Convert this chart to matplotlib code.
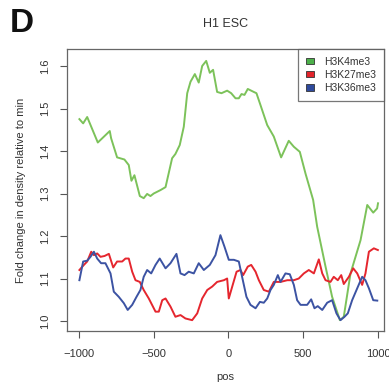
import matplotlib
matplotlib.use("Agg")
import matplotlib.pyplot as plt
from matplotlib.patches import Patch

plt.rcParams['font.family'] = ['Liberation Sans', 'DejaVu Sans']

k4_pos = [-997, -972, -945, -874, -794, -785, -745, -696, -667, -649, -629, -593, -567, -544,
          -522, -500, -455, -421, -377, -355, -326, -299, -276, -254, -225, -199, -176, -149,
          -125, -103, -76, -47, -9, 18, 47, 69, 87, 107, 129, 169, 187, 214, 259, 303, 352,
          403, 437, 477, 515, 566, 593, 649, 693, 745, 771, 816, 883, 928, 968, 994, 1000]
k4_val = [1.475, 1.465, 1.48, 1.42, 1.447, 1.43, 1.385, 1.38, 1.367, 1.33, 1.343, 1.294, 1.289,
          1.299, 1.294, 1.30, 1.308, 1.315, 1.383, 1.393, 1.414, 1.457, 1.536, 1.563, 1.581,
          1.561, 1.60, 1.612, 1.584, 1.591, 1.539, 1.536, 1.542, 1.536, 1.524, 1.524, 1.534,
          1.532, 1.546, 1.539, 1.536, 1.508, 1.461, 1.434, 1.385, 1.424, 1.41, 1.398, 1.347,
          1.285, 1.222, 1.128, 1.057, 1.002, 1.01, 1.112, 1.19, 1.273, 1.255, 1.265, 1.277]

k27_pos = [-997, -967, -945, -918, -900, -878, -856, -829, -800, -771, -745, -711, -689, -667,
           -644, -622, -593, -567, -533, -488, -466, -443, -421, -388, -355, -321, -288, -243,
           -209, -176, -142, -109, -76, -31, -9, 2, 25, 54, 80, 98, 129, 152, 181, 203, 236,
           270, 303, 348, 393, 437, 470, 504, 537, 571, 604, 627, 649, 682, 704, 731, 754, 771,
           805, 834, 861, 894, 916, 939, 972, 999]
k27_val = [1.12, 1.132, 1.14, 1.163, 1.155, 1.159, 1.151, 1.153, 1.158, 1.126, 1.14, 1.14, 1.147,
           1.147, 1.116, 1.096, 1.092, 1.073, 1.053, 1.022, 1.022, 1.049, 1.053, 1.034, 1.01,
           1.014, 1.006, 1.002, 1.018, 1.053, 1.073, 1.081, 1.092, 1.096, 1.10, 1.053, 1.081,
           1.116, 1.12, 1.108, 1.128, 1.132, 1.116, 1.096, 1.073, 1.069, 1.092, 1.092, 1.096,
           1.096, 1.10, 1.112, 1.12, 1.112, 1.145, 1.112, 1.096, 1.092, 1.104, 1.096, 1.108,
           1.087, 1.104, 1.124, 1.112, 1.085, 1.112, 1.163, 1.171, 1.167]

k36_pos = [-997, -972, -945, -923, -900, -878, -852, -823, -789, -767, -734, -700, -674, -644,
           -615, -589, -567, -544, -517, -488, -460, -421, -388, -348, -321, -294, -266, -232,
           -199, -165, -125, -87, -54, -27, 2, 36, 69, 91, 120, 147, 181, 210, 236, 259, 281,
           303, 330, 348, 381, 410, 437, 459, 482, 526, 553, 575, 597, 627, 660, 693, 722, 749,
           776, 798, 827, 861, 894, 916, 939, 968, 995]
k36_val = [1.096, 1.14, 1.142, 1.151, 1.163, 1.147, 1.136, 1.136, 1.112, 1.069, 1.057, 1.042,
           1.026, 1.038, 1.057, 1.073, 1.104, 1.12, 1.112, 1.132, 1.147, 1.124, 1.136, 1.158,
           1.112, 1.108, 1.116, 1.112, 1.136, 1.12, 1.132, 1.155, 1.202, 1.175, 1.144, 1.144,
           1.14, 1.104, 1.057, 1.038, 1.03, 1.045, 1.043, 1.053, 1.073, 1.085, 1.108, 1.092,
           1.112, 1.11, 1.085, 1.049, 1.038, 1.038, 1.051, 1.03, 1.035, 1.026, 1.043, 1.049,
           1.018, 1.002, 1.01, 1.018, 1.049, 1.077, 1.104, 1.096, 1.077, 1.049, 1.048]

series_names = ["H3K4me3", "H3K27me3", "H3K36me3"]
line_colors = ["#7cc25a", "#e5262e", "#3c53a3"]
swatch_colors = ["#4cb04a", "#e3242b", "#2f4a9c"]
x_ticks = [-1000, -500, 0, 500, 1000]
y_ticks = [1.0, 1.1, 1.2, 1.3, 1.4, 1.5, 1.6]

fig = plt.figure(figsize=(3.89, 3.84), dpi=100)
ax = fig.add_axes([67/389, 53/384, (384-67)/389, (331-49)/384])

for xs, ys, c in zip([k4_pos, k27_pos, k36_pos], [k4_val, k27_val, k36_val], line_colors):
    ax.plot(xs, ys, color=c, lw=1.4, solid_joinstyle='round')

ax.set_xlim(-1080, 1040)
ax.set_ylim(0.9765, 1.64)
ax.set_xticks(x_ticks)
ax.set_xticklabels([str(t) if t >= 0 else "\u2212" + str(-t) for t in x_ticks])
ax.set_yticks(y_ticks)
ax.set_yticklabels([f"{t:.1f}" for t in y_ticks], rotation=90, va='center')
ax.tick_params(axis='both', direction='out', length=5, width=0.8, colors='#555555',
               labelcolor='#333333', labelsize=8)
ax.tick_params(axis='x', pad=8)
ax.tick_params(axis='y', pad=7)
for s in ax.spines.values():
    s.set_color('#666666')
    s.set_linewidth(0.9)

ax.set_xlabel("pos", fontsize=8, color='#333333', labelpad=9)
ax.set_ylabel("Fold change in density relative to min", fontsize=8, color='#333333', labelpad=10)
fig.text(226/389, 1 - 24/384, "H1 ESC", fontsize=9, color='#333333', ha='center', va='center')
fig.text(22/389, 1 - 23/384, "D", fontsize=24, fontweight='bold', color='#111111',
         ha='center', va='center')

handles = [Patch(facecolor=c, edgecolor='#333333', linewidth=0.6) for c in swatch_colors]
leg = ax.legend(handles, series_names, loc='upper right', fontsize=7.5, frameon=True,
                fancybox=False, borderaxespad=0, handlelength=0.75, handleheight=0.55,
                handletextpad=1.0, labelspacing=0.3, borderpad=0.75)
leg.get_frame().set_edgecolor('#555555')
leg.get_frame().set_linewidth(0.9)
for t in leg.get_texts():
    t.set_color('#333333')

fig.savefig("out.png", dpi=100)
